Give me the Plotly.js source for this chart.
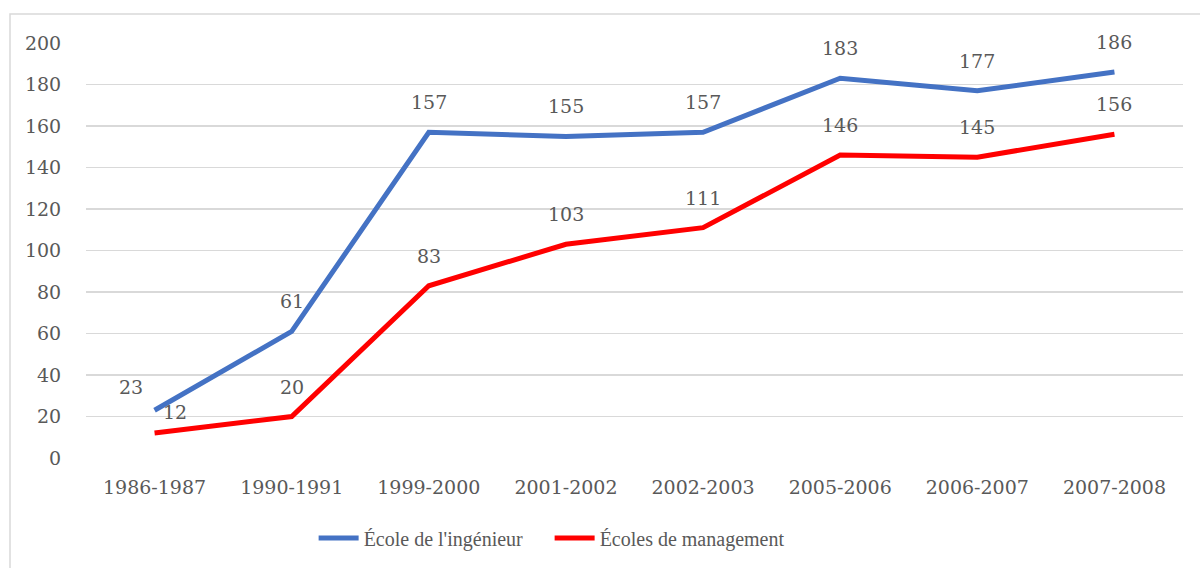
<!DOCTYPE html>
<html>
<head>
<meta charset="utf-8">
<script src="https://cdn.plot.ly/plotly-3.0.1.min.js"></script>
<style>html,body{margin:0;padding:0;background:#fff;}#chart{width:1200px;height:568px;}</style>
</head>
<body>
<div id="chart"></div>
<script>
const categories = ["1986-1987","1990-1991","1999-2000","2001-2002","2002-2003","2005-2006","2006-2007","2007-2008"];
const ingenieur = [23, 61, 157, 155, 157, 183, 177, 186];
const management = [12, 20, 83, 103, 111, 146, 145, 156];
const seriesNames = ["École de l'ingénieur", "Écoles de management"];
const yTicks = [0, 20, 40, 60, 80, 100, 120, 140, 160, 180, 200];

const numFont = {family: "DejaVu Serif", size: 19, color: "#595959"};
const textFont = {family: "Liberation Serif", size: 20, color: "#595959"};

const traces = [
  {x: categories, y: ingenieur, name: seriesNames[0], type: "scatter", mode: "lines",
   line: {color: "#4472C4", width: 5}, hoverinfo: "skip"},
  {x: categories, y: management, name: seriesNames[1], type: "scatter", mode: "lines",
   line: {color: "#FF0000", width: 5}, hoverinfo: "skip"}
];

const annotations = [];
ingenieur.forEach((v, i) => annotations.push({
  x: categories[i], y: v, text: String(v), showarrow: false, font: numFont,
  xshift: i === 0 ? -24 : 0, yshift: i === 0 ? 23 : 30
}));
management.forEach((v, i) => annotations.push({
  x: categories[i], y: v, text: String(v), showarrow: false, font: numFont,
  xshift: i === 0 ? 20 : 0, yshift: i === 0 ? 21 : 30
}));

const layout = {
  width: 1200, height: 568,
  margin: {l: 86, r: 17, t: 43, b: 109},
  paper_bgcolor: "#ffffff", plot_bgcolor: "#ffffff",
  showlegend: true,
  legend: {orientation: "h", x: 0.2075, xanchor: "left", y: -0.19, yanchor: "middle",
           font: textFont, itemwidth: 40, traceorder: "normal", entrywidth: 181},
  xaxis: {type: "category", range: [-0.5, categories.length - 0.5], showgrid: false, zeroline: false, showline: false,
          ticks: "outside", ticklen: 12, tickcolor: "rgba(0,0,0,0)",
          tickfont: numFont, fixedrange: true},
  yaxis: {range: [0, 200], tickvals: yTicks, showgrid: true, gridcolor: "#d9d9d9", gridwidth: 1.3,
          zeroline: false, showline: false, ticks: "outside", ticklen: 20,
          tickcolor: "rgba(0,0,0,0)", tickfont: numFont, fixedrange: true},
  annotations: annotations,
  shapes: [{type: "rect", xref: "paper", yref: "paper",
            x0: (10 - 86) / 1097, x1: 1.2, y0: -0.5, y1: (459 - 14) / 416,
            line: {color: "#d9d9d9", width: 1.5}, fillcolor: "rgba(0,0,0,0)", layer: "below"}]
};

Plotly.newPlot("chart", traces, layout, {displayModeBar: false, staticPlot: true});
</script>
</body>
</html>
